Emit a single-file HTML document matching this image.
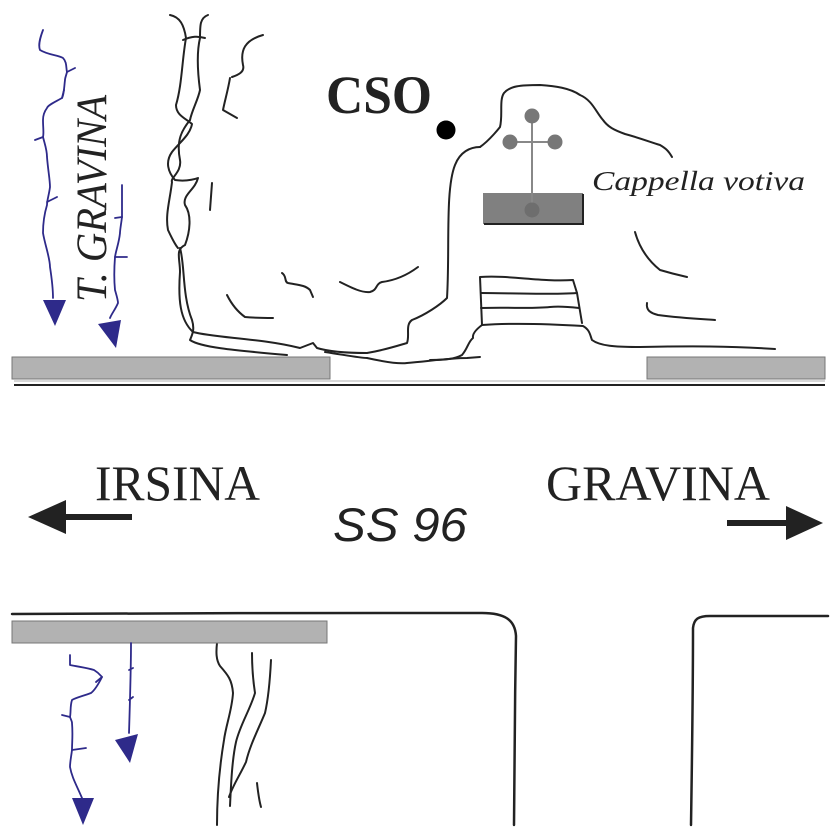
<!DOCTYPE html>
<html><head><meta charset="utf-8"><style>html,body{margin:0;padding:0;background:#fff}svg{display:block}</style></head>
<body>
<svg width="837" height="838" viewBox="0 0 837 838" xmlns="http://www.w3.org/2000/svg">
<g fill="none" stroke="#222" stroke-width="2" stroke-linecap="round" stroke-linejoin="round">
<path d="M170,15 C180,17 184,25 186,38 C182,60 182,85 176,105 C176,115 185,118 192,124 C190,135 180,142 172,152 C165,162 168,172 175,180 C188,182 198,178 198,178 C195,190 182,195 185,205 C192,215 190,232 185,245 C175,250 180,258 180,272 C178,300 180,320 193,332 C215,338 260,338 300,348 L313,343 L317,348 C330,352 350,353 367,353 C385,350 400,345 407,343 C410,335 405,325 412,320 C425,315 440,305 447,298 C450,250 445,190 455,165 C460,152 470,147 480,147"/>
<path d="M208,15 C200,18 200,25 200,38 C196,55 198,75 200,90 C198,100 192,110 190,120"/>
<path d="M183,40 C192,36 198,36 205,38"/>
<path d="M190,120 C182,130 176,140 180,160 C182,172 170,178 172,182 C170,200 165,215 168,230 C175,245 178,248 178,248"/>
<path d="M180,248 C185,265 182,295 192,320 C195,330 192,335 190,340 C200,347 230,350 287,355"/>
<path d="M325,352 C345,355 360,358 367,358 C385,362 400,364 407,363 C430,361 450,358 467,358 L480,357"/>
<path d="M263,35 C245,40 240,50 243,65 C245,72 238,75 232,77"/>
<path d="M230,78 C228,90 225,100 223,110 L237,118"/>
<path d="M212,183 L210,210"/>
<path d="M282,273 C287,276 284,282 288,283 C298,285 305,285 310,290 L313,297"/>
<path d="M340,282 C352,288 362,293 370,292 C378,290 375,284 382,282 C398,280 410,273 418,267"/>
<path d="M227,295 C232,305 238,312 245,317 C255,318 265,318 273,318"/>
<path d="M480,147 C490,140 500,127 500,127 C503,115 499,100 504,93 C510,86 520,85 540,85 C555,86 570,88 580,95 C592,100 596,112 603,120 C608,127 614,130 625,134 C640,138 650,142 660,145 C665,148 668,150 672,157"/>
<path d="M430,360 C445,360 455,359 462,355 C468,348 468,342 473,338 C472,333 478,328 482,325"/>
<path d="M482,325 L480,277 C510,275 540,282 573,280 L577,293 L582,323"/>
<path d="M481,293 C510,293 545,295 577,293"/>
<path d="M481,308 C510,307 530,309 550,307 C560,306 570,307 579,308"/>
<path d="M482,325 C510,323 550,324 583,326 C590,330 590,335 592,340 C600,346 615,347 640,347 C690,346 730,346 775,349"/>
<path d="M635,232 C640,250 650,262 660,270 C670,273 678,275 687,277"/>
<path d="M647,303 C646,310 650,313 658,315 C680,318 700,319 715,320"/>
<path d="M12,614 C150,613 350,613 482,613 C505,613 515,620 516,636 C515,700 514,770 514,825" stroke-width="2.5"/>
<path d="M691,825 C692,760 693,690 693,628 C694,619 698,616 710,616 L828,616" stroke-width="2.5"/>
<path d="M217,643 C216,652 216,660 220,666 C228,675 232,680 233,693 C232,710 226,725 224,740 C219,770 217,800 217,825"/>
<path d="M252,653 C252,670 253,680 255,693 C250,710 240,725 236,742 C232,760 231,785 230,806"/>
<path d="M271,660 C270,680 268,700 265,713 C258,730 250,745 246,762 C240,775 233,785 229,797"/>
<path d="M257,783 C258,792 259,800 261,807"/>
</g>
<rect x="12" y="357" width="318" height="22" fill="#b2b2b2" stroke="#777" stroke-width="1"/>
<rect x="647" y="357" width="178" height="22" fill="#b2b2b2" stroke="#777" stroke-width="1"/>
<line x1="14" y1="385" x2="825" y2="385" stroke="#222" stroke-width="2"/>
<line x1="14" y1="381" x2="825" y2="381" stroke="#999" stroke-width="0.8"/>
<rect x="12" y="621" width="315" height="22" fill="#b2b2b2" stroke="#777" stroke-width="1"/>
<g fill="none" stroke="#2e2a8a" stroke-width="1.8" stroke-linecap="round" stroke-linejoin="round">
<path d="M43,30 C40,38 38,45 40,50 C48,55 58,55 63,58 C67,62 66,68 67,72 C66,76 65,78 65,80 C64,88 64,95 62,98 C55,102 48,105 47,108 C44,112 43,116 43,120 C43,128 44,133 43,137 C45,145 47,150 47,157 C48,170 50,180 50,187 C49,195 47,200 47,205 C44,215 43,225 43,233 C45,245 50,258 50,267 C52,280 53,288 53,298"/>
<path d="M67,72 L75,68 M43,137 L35,140 M47,202 L57,197 M62,98 L64,90"/>
<path d="M122,185 C122,195 122,205 122,217 C121,225 120,230 120,233 C119,243 116,250 115,257 C114,270 114,280 115,290 C117,297 118,300 118,303 C115,310 112,313 110,318"/>
<path d="M122,217 L115,218 M115,257 L127,257"/>
<path d="M70,655 L70,665 C80,667 88,668 94,670 C99,673 101,676 102,677 C98,685 95,690 91,693 C83,696 75,698 72,700 C70,706 71,712 70,717 C71,720 72,721 72,723 C73,735 72,742 72,750 C71,758 70,762 70,767 C72,778 77,786 82,798"/>
<path d="M102,677 L96,682 M70,717 L62,715 M72,750 L86,748"/>
<path d="M131,643 C131,670 130,700 129,733 M129,670 L133,668 M129,700 L133,697"/>
</g>
<g fill="#2e2a8a">
<polygon points="43,300 66,300 55,326"/>
<polygon points="98,324 121,320 116,348"/>
<polygon points="72,798 94,798 83,825"/>
<polygon points="115,740 138,734 130,763"/>
</g>
<g fill="#777">
<rect x="483" y="193" width="100" height="31" fill="#808080"/>
<line x1="583" y1="194" x2="583" y2="225" stroke="#222" stroke-width="2"/>
<line x1="484" y1="224" x2="583" y2="224" stroke="#222" stroke-width="2"/>
<line x1="532" y1="116" x2="532" y2="210" stroke="#888" stroke-width="2"/>
<line x1="510" y1="142" x2="555" y2="142" stroke="#888" stroke-width="2"/>
<circle cx="532" cy="116" r="7.5"/>
<circle cx="510" cy="142" r="7.5"/>
<circle cx="555" cy="142" r="7.5"/>
<circle cx="532" cy="210" r="7.5" fill="#6e6e6e"/>
</g>
<circle cx="446" cy="130" r="9.5" fill="#000"/>
<line x1="132" y1="517" x2="58" y2="517" stroke="#222" stroke-width="6"/>
<polygon points="28,517 66,500 66,534" fill="#222"/>
<line x1="727" y1="523" x2="795" y2="523" stroke="#222" stroke-width="6"/>
<polygon points="823,523 786,506 786,540" fill="#222"/>
<g font-family="Liberation Serif, serif" fill="#222">
<text x="326" y="113" font-size="54" font-weight="bold" textLength="106" lengthAdjust="spacingAndGlyphs">CSO</text>
<text x="592" y="190" font-size="27" font-style="italic" textLength="213" lengthAdjust="spacingAndGlyphs">Cappella votiva</text>
<text x="95" y="500" font-size="50" textLength="165" lengthAdjust="spacingAndGlyphs">IRSINA</text>
<text x="546" y="500" font-size="50" textLength="224" lengthAdjust="spacingAndGlyphs">GRAVINA</text>
<text transform="translate(106,302) rotate(-90)" font-size="43" font-style="italic" textLength="207" lengthAdjust="spacingAndGlyphs">T. GRAVINA</text>
</g>
<text x="333" y="541" font-family="Liberation Sans, sans-serif" font-style="italic" font-size="47" fill="#222" textLength="134" lengthAdjust="spacingAndGlyphs">SS 96</text>
</svg>
</body></html>
